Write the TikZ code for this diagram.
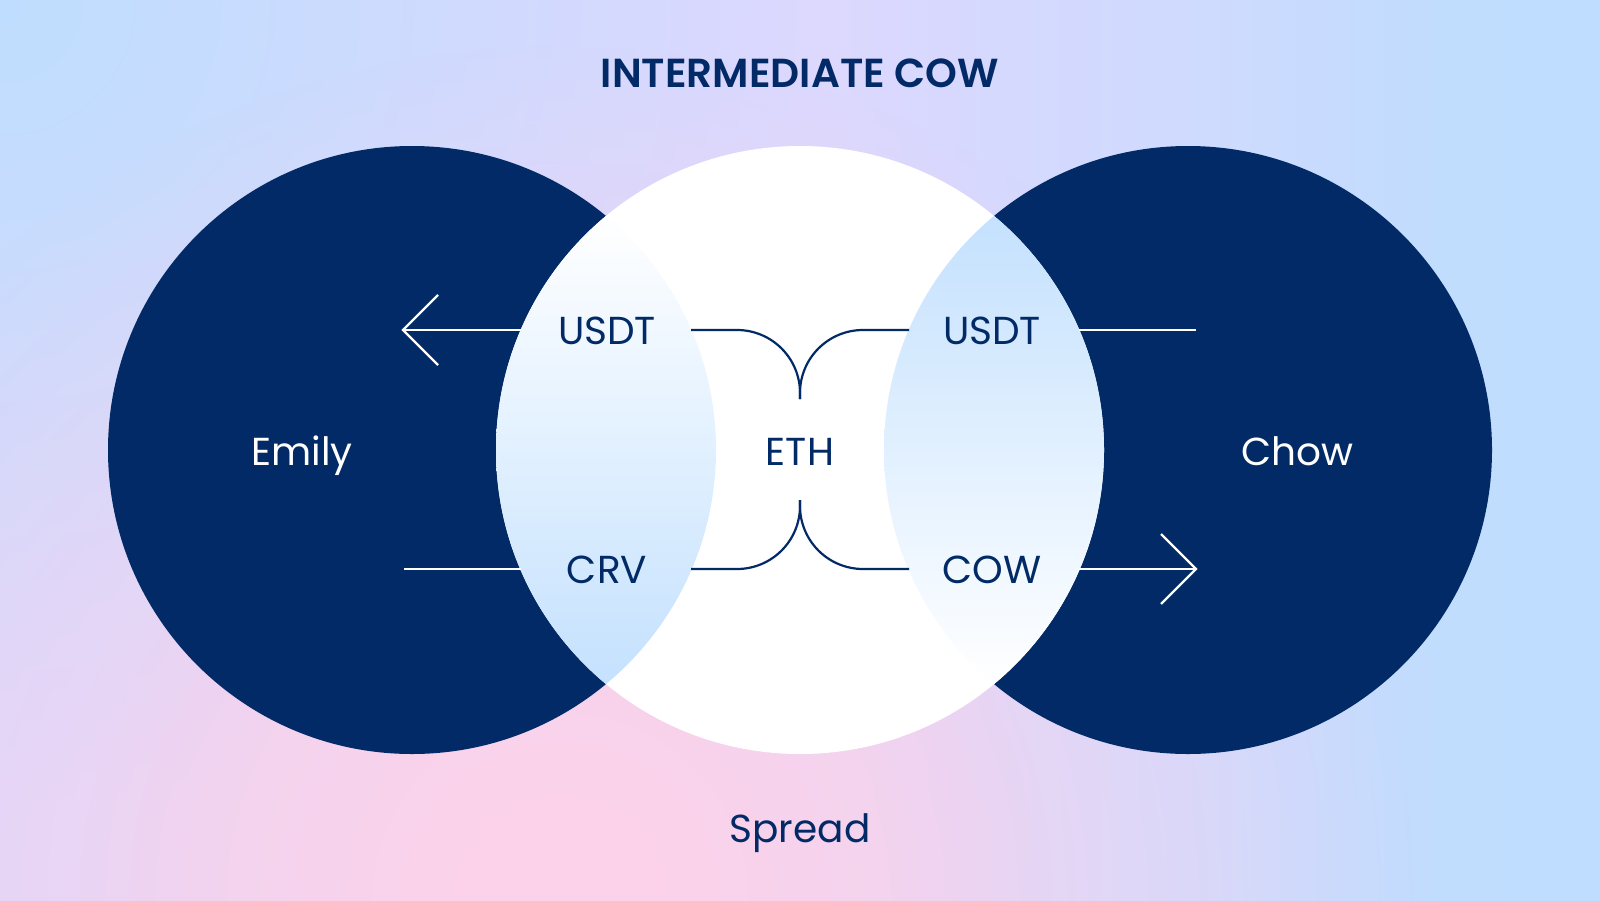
\documentclass[tikz,border=0pt]{standalone}
\usepackage{fontspec}
\setmainfont{Poppins}[BoldFont={Poppins SemiBold}]
\usetikzlibrary{fadings}
\definecolor{navy}{HTML}{012A66}
\definecolor{lensblue}{HTML}{C4E1FE}
\definecolor{bglav}{HTML}{DCD8FE}
\definecolor{bgblue}{HTML}{BFDEFF}
\definecolor{bgpink}{HTML}{FCD2EA}
\tikzfading[name=radfade, inner color=transparent!0, outer color=transparent!100]
\tikzfading[name=fadeR, left color=transparent!100, right color=transparent!0]
\tikzset{
  lbl/.style={font=\fontsize{39}{39}\selectfont, text=navy, inner sep=0pt, anchor=base},
  wlbl/.style={lbl, text=white},
  ttl/.style={font=\fontsize{40.5}{40.5}\selectfont\bfseries, text=navy, inner sep=0pt, anchor=base},
  wline/.style={draw=white, line width=2.2pt},
  nline/.style={draw=navy, line width=2.2pt},
}
\begin{document}
\begin{tikzpicture}[x=1pt,y=-1pt]
\useasboundingbox (0,0) rectangle (1600,900);
% background
\fill[bglav] (-10,-10) rectangle (1610,910);
\fill[bgblue, path fading=fadeR] (850,-10) rectangle (1610,910);
\fill[bgblue, path fading=fadeR] (1250,-10) rectangle (1610,910);
\fill[bgblue, path fading=radfade] (0,0) circle[radius=800pt];
\fill[bgpink, path fading=radfade] (560,900) circle[radius=860pt];
\fill[bgpink, path fading=radfade] (560,900) circle[radius=480pt];

% circles
\fill[navy] (412,450) circle[radius=304pt];
\fill[navy] (1188,450) circle[radius=304pt];
\fill[white] (800,450) circle[radius=304pt];

% lenses
\begin{scope}
  \clip (412,450) circle[radius=304pt];
  \clip (800,450) circle[radius=304pt];
  \shade[top color=white, bottom color=lensblue] (470,214) rectangle (740,686);
\end{scope}
\begin{scope}
  \clip (1188,450) circle[radius=304pt];
  \clip (800,450) circle[radius=304pt];
  \shade[top color=lensblue, bottom color=white] (860,214) rectangle (1130,686);
\end{scope}

% labels
\node[ttl] (title) at (800,87) {INTERMEDIATE COW};
\node[lbl] (usdtL) at (607,344) {USDT};
\node[lbl] (crv) at (607,583) {CRV};
\node[lbl] (usdtR) at (992,344) {USDT};
\node[lbl] (cow) at (992,583) {COW};
\node[lbl] (eth) at (800,465) {ETH};
\node[wlbl] (emily) at (302,465) {Emily};
\node[wlbl] (chow) at (1297,465) {Chow};
\node[lbl] (spread) at (800,842) {Spread};

% coordinates for connectors
\coordinate (aL1) at (521,330);
\coordinate (tipL) at (403,330);
\coordinate (aL2) at (404,569);
\coordinate (bL2) at (521,569);
\coordinate (aR1) at (1079,330);
\coordinate (bR1) at (1196,330);
\coordinate (aR2) at (1079,569);
\coordinate (tipR) at (1196,569);
\coordinate (cTL) at (691,330);
\coordinate (cTR) at (909,330);
\coordinate (cBL) at (691,569);
\coordinate (cBR) at (909,569);
\coordinate (mT) at (800,399);
\coordinate (mB) at (800,500);

% white connectors
\draw[wline] (aL1) -- (tipL);
\draw[wline, line join=miter] (tipL) ++(35,-35) -- (tipL) -- ++(35,35);
\draw[wline] (aL2) -- (bL2);
\draw[wline] (aR1) -- (bR1);
\draw[wline] (aR2) -- (tipR);
\draw[wline, line join=miter] (tipR) ++(-35,-35) -- (tipR) -- ++(-35,35);

% navy connectors
\draw[nline] (cTL) -- (737,330) .. controls (771.8,330) and (800,358.2) .. (800,393) -- (mT);
\draw[nline] (cTR) -- (863,330) .. controls (828.2,330) and (800,358.2) .. (800,393) -- (mT);
\draw[nline] (cBL) -- (737,569) .. controls (771.8,569) and (800,540.8) .. (800,506) -- (mB);
\draw[nline] (cBR) -- (863,569) .. controls (828.2,569) and (800,540.8) .. (800,506) -- (mB);
\end{tikzpicture}
\end{document}
